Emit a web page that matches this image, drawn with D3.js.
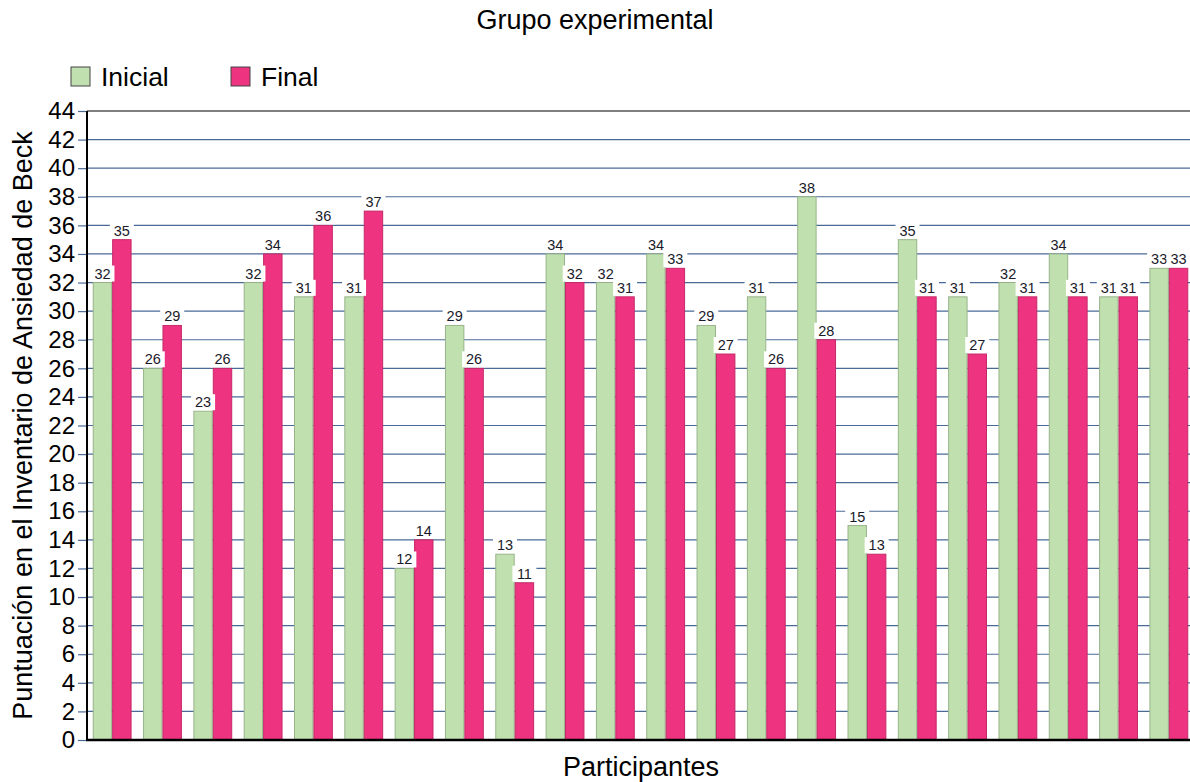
<!DOCTYPE html>
<html>
<head>
<meta charset="utf-8">
<script src="https://cdn.jsdelivr.net/npm/d3@7"></script>
<style>
  html, body { margin: 0; padding: 0; background: #fff; }
  svg { display: block; font-family: "Liberation Sans", Arial, sans-serif; }
</style>
</head>
<body>
<svg id="chart" width="1190" height="782"></svg>
<script>
// Participant scores on the Beck Anxiety Inventory, before and after
const participants = d3.range(1, 23).map(String);
const inicial = [32, 26, 23, 32, 31, 31, 12, 29, 13, 34, 32, 34, 29, 31, 38, 15, 35, 31, 32, 34, 31, 33];
const final   = [35, 29, 26, 34, 36, 37, 14, 26, 11, 32, 31, 33, 27, 26, 28, 13, 31, 27, 31, 31, 31, 33];
const seriesNames = ["Inicial", "Final"];
const yTicks = d3.range(0, 45, 2);

const fills = { Inicial: "#c1e0af", Final: "#ee3380" };
const strokes = { Inicial: "#98b48a", Final: "#c42a68" };

const svg = d3.select("#chart");
const plot = { left: 87, right: 1194, top: 111, bottom: 740 };

const x = d3.scaleBand().domain(participants).range([plot.left, plot.right]).paddingInner(0.228).paddingOuter(0.114);
const xs = d3.scaleBand().domain(seriesNames).range([0, x.bandwidth()]);
const y = d3.scaleLinear().domain([0, 44]).range([plot.bottom, plot.top]);

// horizontal gridlines
svg.append("g")
  .selectAll("line")
  .data(yTicks.filter(d => d > 0 && d < 44))
  .join("line")
  .attr("x1", plot.left).attr("x2", plot.right)
  .attr("y1", d => y(d)).attr("y2", d => y(d))
  .attr("stroke", "#4a6a96").attr("stroke-width", 1.2);

// top border of plot
svg.append("line")
  .attr("x1", plot.left).attr("x2", plot.right)
  .attr("y1", y(44)).attr("y2", y(44))
  .attr("stroke", "#555").attr("stroke-width", 1.5);

const rows = participants.map((p, i) => ({ p, values: [
  { s: "Inicial", v: inicial[i] },
  { s: "Final", v: final[i] }
]}));

const groups = svg.append("g").selectAll("g")
  .data(rows).join("g")
  .attr("transform", d => `translate(${x(d.p)},0)`);

groups.selectAll("rect")
  .data(d => d.values).join("rect")
  .attr("x", d => xs(d.s) + 0.5)
  .attr("y", d => y(d.v))
  .attr("width", xs.bandwidth() - 1)
  .attr("height", d => y(0) - y(d.v))
  .attr("fill", d => fills[d.s])
  .attr("stroke", d => strokes[d.s])
  .attr("stroke-width", 1);

// value labels on white boxes
const labels = groups.selectAll("g.lbl")
  .data(d => d.values).join("g").attr("class", "lbl")
  .attr("transform", d => `translate(${xs(d.s) + xs.bandwidth() / 2},${y(d.v)})`);
labels.append("rect")
  .attr("x", -12).attr("y", -17).attr("width", 24).attr("height", 16)
  .attr("fill", "#fff");
labels.append("text")
  .attr("text-anchor", "middle").attr("y", -4)
  .attr("font-size", 14.5).attr("fill", "#1a1a2a")
  .text(d => d.v);

// y axis
const yAxis = d3.axisLeft(y).tickValues(yTicks).tickSize(9).tickPadding(3);
const ya = svg.append("g").attr("transform", `translate(${plot.left},0)`).call(yAxis);
ya.select(".domain").remove();
ya.selectAll(".tick line").attr("stroke", "#4a6a96").attr("stroke-width", 1.2);
ya.selectAll(".tick text").attr("font-size", 24).attr("fill", "#000")
  .attr("font-family", "Liberation Sans, Arial, sans-serif");

// axis lines
svg.append("line").attr("x1", plot.left).attr("x2", plot.left)
  .attr("y1", plot.top).attr("y2", plot.bottom + 1)
  .attr("stroke", "#000").attr("stroke-width", 2);
svg.append("line").attr("x1", plot.left - 1).attr("x2", plot.right)
  .attr("y1", plot.bottom).attr("y2", plot.bottom)
  .attr("stroke", "#000").attr("stroke-width", 2.5);

// titles
svg.append("text").attr("x", 595).attr("y", 29).attr("text-anchor", "middle")
  .attr("font-size", 27).attr("fill", "#000").text("Grupo experimental");
svg.append("text").attr("x", 641).attr("y", 776).attr("text-anchor", "middle")
  .attr("font-size", 27).attr("fill", "#000").text("Participantes");
svg.append("text")
  .attr("transform", `translate(32,${(plot.top + plot.bottom) / 2}) rotate(-90)`)
  .attr("text-anchor", "middle").attr("font-size", 27).attr("fill", "#000")
  .text("Puntuación en el Inventario de Ansiedad de Beck");

// legend
const legend = svg.append("g").selectAll("g")
  .data(seriesNames).join("g")
  .attr("transform", (d, i) => `translate(${71 + i * 160},67)`);
legend.append("rect").attr("width", 19).attr("height", 19)
  .attr("fill", d => fills[d]).attr("stroke", "#444").attr("stroke-width", 1);
legend.append("text").attr("x", 30).attr("y", 19)
  .attr("font-size", 26.5).attr("fill", "#000").text(d => d);
</script>
</body>
</html>
